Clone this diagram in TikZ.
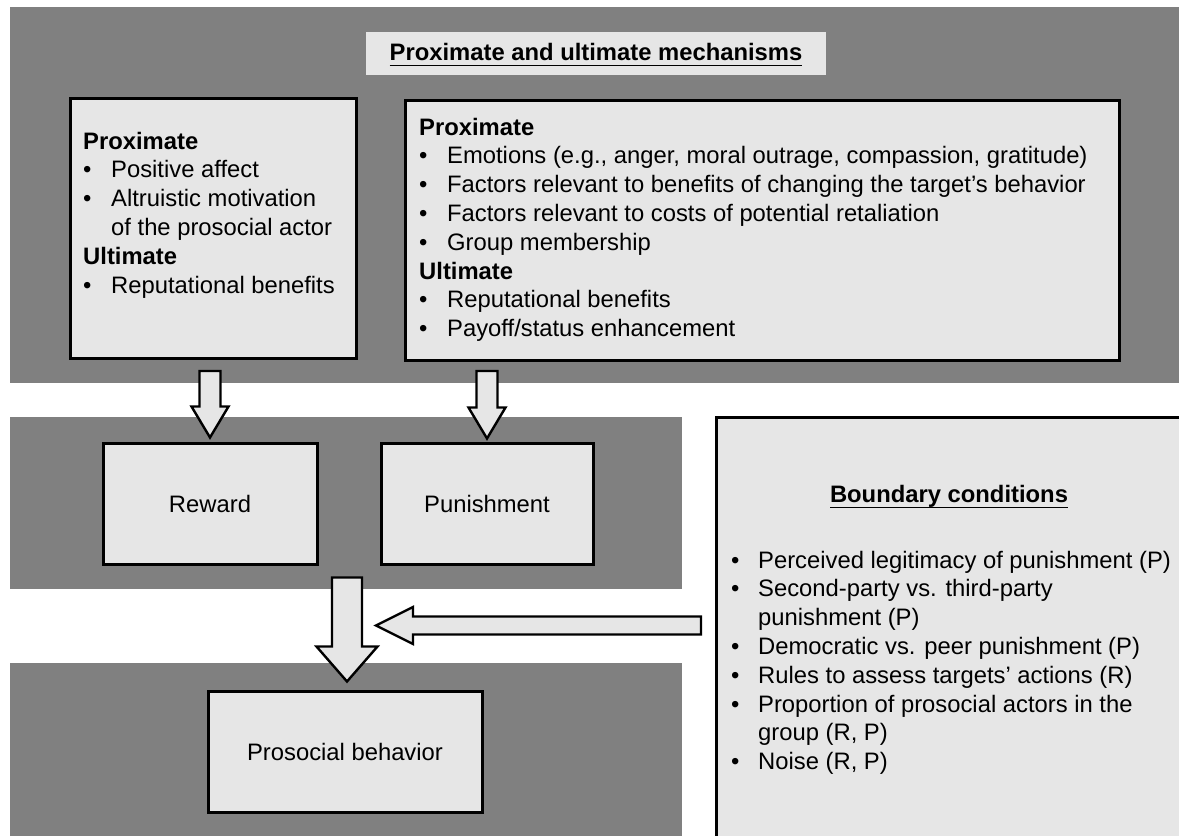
\documentclass[tikz,border=0pt]{standalone}
\usepackage{fontspec}
\setmainfont{Liberation Sans}
\usetikzlibrary{calc}
\definecolor{band}{HTML}{808080}
\definecolor{boxfill}{HTML}{E6E6E6}

\newcommand\bitem[2][28pt]{\hbox{\makebox[#1][l]{•}#2}}
\newcommand\bcont[2][28pt]{\hbox{\hspace*{#1}#2}}
\newcommand\bhead[1]{\hbox{\bfseries #1}}
\newcommand\stack[1]{\vtop{\baselineskip=28.8pt\lineskiplimit=-100pt\lineskip=0pt #1}}
\newcommand\ulbf[1]{\setbox0\hbox{\bfseries #1}\rlap{\rule[-6pt]{\wd0}{1.4pt}}\box0}

\newcommand\downblk[5]{%
\draw[blk] let \p1=(#1), \p2=(#2) in
 (\x2-#3pt,\y1) -- (\x2+#3pt,\y1) -- (\x2+#3pt,\y2+#5pt) -- (\x2+#4pt,\y2+#5pt)
 -- (\x2,\y2) -- (\x2-#4pt,\y2+#5pt) -- (\x2-#3pt,\y2+#5pt) -- cycle;}
\newcommand\leftblk[5]{%
\draw[blk] let \p1=(#1), \p2=(#2) in
 (\x1,\y2+#3pt) -- (\x1,\y2-#3pt) -- (\x2+#5pt,\y2-#3pt) -- (\x2+#5pt,\y2-#4pt)
 -- (\x2,\y2) -- (\x2+#5pt,\y2+#4pt) -- (\x2+#5pt,\y2+#3pt) -- cycle;}

\begin{document}
\begin{tikzpicture}[x=1pt,y=-1pt,
  font=\fontsize{23.8}{28.8}\selectfont,
  box/.style={draw=black, line width=3pt, fill=boxfill, inner sep=0pt},
  plainfill/.style={fill=boxfill, draw=none, inner sep=0pt},
  blk/.style={draw=black, line width=2.4pt, fill=boxfill, line join=miter},
  txt/.style={anchor=base west, inner sep=0pt, text=black},
  ttl/.style={anchor=base, inner sep=0pt, text=black}]

\useasboundingbox (0,0) rectangle (1179,836);
\fill[white] (0,0) rectangle (1179,836);

% gray bands
\fill[band] (10,7) rectangle (1179,383);
\fill[band] (10,417) rectangle (682,589);
\fill[band] (10,663) rectangle (682,836);

% title
\node[plainfill, anchor=north west, minimum width=460, minimum height=43] (titlebox) at (366,32) {};
\node[ttl] (title) at (596,60) {\ulbf{Proximate and ultimate mechanisms}};

% mechanism boxes
\node[box, anchor=north west, minimum width=286, minimum height=260] (leftbox) at (69,97) {};
\node[box, anchor=north west, minimum width=714, minimum height=260] (rightbox) at (404,99) {};

\node[txt] (lefttext) at (83,149) {\stack{%
  \bhead{Proximate}
  \bitem{Positive affect}
  \bitem{Altruistic motivation}
  \bcont{of the prosocial actor}
  \bhead{Ultimate}
  \bitem{Reputational benefits}}};

\node[txt] (righttext) at (419,135) {\stack{%
  \bhead{Proximate}
  \bitem{Emotions (e.g., anger, moral outrage, compassion, gratitude)}
  \bitem{Factors relevant to benefits of changing the target’s behavior}
  \bitem{Factors relevant to costs of potential retaliation}
  \bitem{Group membership}
  \bhead{Ultimate}
  \bitem{Reputational benefits}
  \bitem{Payoff/status enhancement}}};

% outcome boxes
\node[box, minimum width=214, minimum height=121] (reward) at (210,503.5) {Reward};
\node[box, minimum width=212, minimum height=121] (punish) at (487,503.5) {Punishment};
\node[box, minimum width=274, minimum height=121] (prosocial) at (345,751.5) {Prosocial behavior};

% boundary conditions box (runs off the page to the right and bottom)
\node[plainfill, anchor=north west, minimum width=475, minimum height=425] (boundary) at (716.5,417.5) {};
\draw[line width=3pt] (boundary.north east) -- (boundary.north west) -- (boundary.south west);
\node[ttl] (btitle) at (949,502) {\ulbf{Boundary conditions}};
\node[txt] (blist) at (731,568) {\stack{%
  \bitem[27pt]{Perceived legitimacy of punishment (P)}
  \bitem[27pt]{Second-party vs. third-party}
  \bcont[27pt]{punishment (P)}
  \bitem[27pt]{Democratic vs. peer punishment (P)}
  \bitem[27pt]{Rules to assess targets’ actions (R)}
  \bitem[27pt]{Proportion of prosocial actors in the}
  \bcont[27pt]{group (R, P)}
  \bitem[27pt]{Noise (R, P)}}};

% connector coordinates
\coordinate (a1s) at ($(reward.north |- leftbox.south)+(0,11)$);
\coordinate (a1t) at ($(reward.north)+(0,-4)$);
\coordinate (a2s) at ($(punish.north |- rightbox.south)+(0,9)$);
\coordinate (a2t) at ($(punish.north)+(0,-3)$);
\coordinate (a3s) at ($(prosocial.north |- reward.south)+(2,12)$);
\coordinate (a3t) at ($(prosocial.north)+(2,-8)$);
\coordinate (a4s) at ($(boundary.north west)+(-15.5,208)$);
\coordinate (a4t) at ($(a4s -| prosocial.north)+(31,0)$);

% block arrows
\downblk{a1s}{a1t}{10.5}{18.5}{31}
\downblk{a2s}{a2t}{10.5}{18.5}{31}
\downblk{a3s}{a3t}{15}{30.5}{35}
\leftblk{a4s}{a4t}{9}{18.5}{37}
\end{tikzpicture}
\end{document}
